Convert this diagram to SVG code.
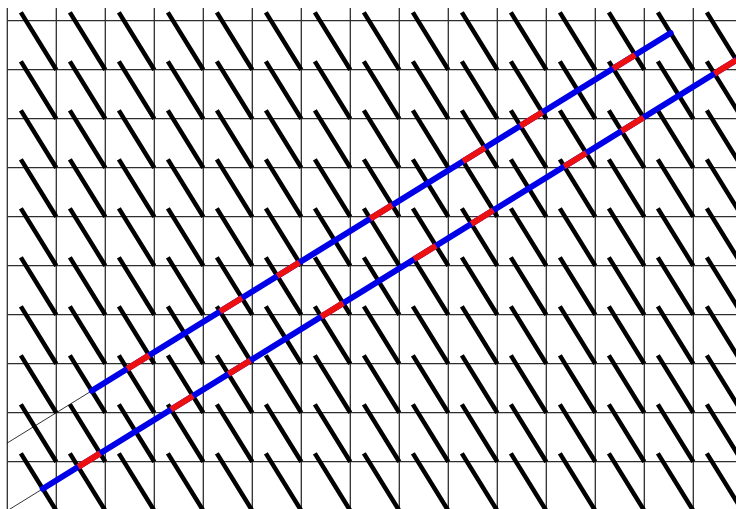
<svg xmlns="http://www.w3.org/2000/svg" xmlns:xlink="http://www.w3.org/1999/xlink" width="736" height="509" viewBox="0 0 736 509">
<style>
.grid{stroke:#2e2e2e;stroke-width:1.3;fill:none}
.win{stroke:#000;stroke-width:4.5;fill:none;stroke-linecap:butt}
.thin{stroke:#000;stroke-width:0.8;fill:none}
.long{stroke:#0000e8;stroke-width:6;fill:none;stroke-linecap:round;stroke-linejoin:round}
.short{stroke:#ec1010;stroke-width:6;fill:none;stroke-linecap:butt}
</style>
<defs>
<path id="row" class="win" d="M20.85 12.33 l35.45 57.37 m13.55 -57.37 l35.45 57.37 m13.55 -57.37 l35.45 57.37 m13.55 -57.37 l35.45 57.37 m13.55 -57.37 l35.45 57.37 m13.55 -57.37 l35.45 57.37 m13.55 -57.37 l35.45 57.37 m13.55 -57.37 l35.45 57.37 m13.55 -57.37 l35.45 57.37 m13.55 -57.37 l35.45 57.37 m13.55 -57.37 l35.45 57.37 m13.55 -57.37 l35.45 57.37 m13.55 -57.37 l35.45 57.37 m13.55 -57.37 l35.45 57.37 m13.55 -57.37 l35.45 57.37"/>
</defs>
<rect width="736" height="509" fill="#fff"/>
<g id="grid" class="grid">
<path d="M7.3 8V509M56.3 8V509M105.3 8V509M154.3 8V509M203.3 8V509M252.3 8V509M301.3 8V509M350.3 8V509M399.3 8V509M448.3 8V509M497.3 8V509M546.3 8V509M595.3 8V509M644.3 8V509M693.3 8V509"/>
<path d="M7.3 20.7H736M7.3 69.7H736M7.3 118.7H736M7.3 167.7H736M7.3 216.7H736M7.3 265.7H736M7.3 314.7H736M7.3 363.7H736M7.3 412.7H736M7.3 461.7H736"/>
</g>
<g id="windows">
<use xlink:href="#row"/>
<use xlink:href="#row" y="49"/>
<use xlink:href="#row" y="98"/>
<use xlink:href="#row" y="147"/>
<use xlink:href="#row" y="196"/>
<use xlink:href="#row" y="245"/>
<use xlink:href="#row" y="294"/>
<use xlink:href="#row" y="343"/>
<use xlink:href="#row" y="392"/>
<use xlink:href="#row" y="441"/>
</g>
<g id="connectors">
<path class="thin" d="M7.3 442.98L91.757 390.787"/>
<path class="thin" d="M7.3 510.7L42.757 488.787"/>
<g id="upper-line">
<path class="long" d="M91.757 390.787L670.63 33.021"/>
<path class="short" d="M127.213 368.873L149.127 355.33M220.04 311.503L241.953 297.959M277.41 276.046L299.323 262.503M370.237 218.676L392.15 205.132M463.063 161.305L484.977 147.762M520.433 125.848L542.347 112.305M613.26 68.478L635.173 54.934"/>
</g>
<g id="lower-line">
<path class="long" d="M42.757 488.787L771.8 38.19"/>
<path class="short" d="M78.213 466.873L100.127 453.33M171.04 409.503L192.953 395.959M228.41 374.046L250.323 360.503M321.237 316.676L343.15 303.132M414.063 259.305L435.977 245.762M471.433 223.848L493.347 210.305M564.26 166.478L586.173 152.934M621.63 131.021L643.543 117.478M714.457 73.651L736.37 60.107"/>
</g>
</g>
</svg>
